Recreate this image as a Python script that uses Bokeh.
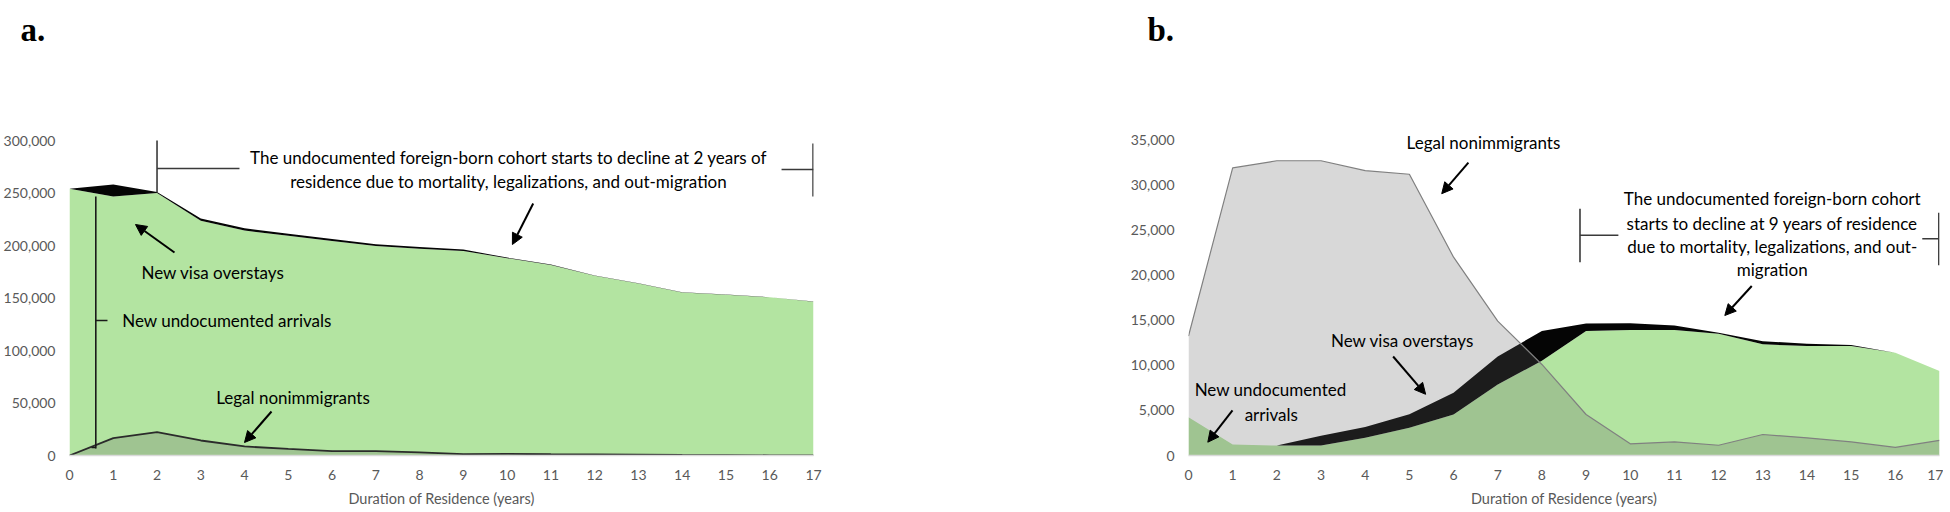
import numpy as np
from bokeh.plotting import figure
from bokeh.layouts import row, column
from bokeh.models import Range1d, FixedTicker, NumeralTickFormatter, Label, Arrow, NormalHead
from bokeh.core.properties import value
from bokeh.embed import file_html
from bokeh.resources import INLINE

# ---------------- data ----------------
years = list(range(18))
year_ticks = list(range(18))

# Panel a
a_undocumented = [254000, 246700, 250000, 223500, 214300, 209200, 204300, 199500, 196800,
                  194800, 187900, 181500, 171100, 163800, 155300, 153100, 150600, 146500]
a_overstays = [0, 11300, 1000, 2200, 2200, 2000, 1800, 1800, 1700,
               1300, 600, 400, 300, 300, 200, 200, 200, 200]
a_legal = [0, 16500, 22200, 14300, 8600, 6300, 4100, 4100, 2900,
           1300, 1500, 1200, 1000, 800, 500, 300, 200, 200]
a_yticks = [0, 50000, 100000, 150000, 200000, 250000, 300000]

# Panel b
b_undocumented = [4250, 1220, 1100, 1100, 1960, 3070, 4550, 7890, 10500,
                  13800, 13920, 13920, 13520, 12330, 12150, 12150, 11410, 9370]
b_overstays = [0, 0, 0, 1100, 1200, 1500, 2400, 3100, 3300,
               850, 750, 500, 100, 350, 250, 100, 0, 0]
b_legal = [13250, 31900, 32700, 32700, 31600, 31200, 22000, 14900, 10100,
           4550, 1290, 1510, 1140, 2330, 1960, 1510, 900, 1680]
b_yticks = [0, 5000, 10000, 15000, 20000, 25000, 30000, 35000]

panel_letters = ["a.", "b."]
x_title = "Duration of Residence (years)"

GREEN = "#b3e4a1"
BLACK = "#050505"
GREY_RGB = (100, 100, 100)
TICK_C = "#595959"
FONT = "Lato"
FRAME_H = 407
HDR_H = 48


def make_panel(border_left, frame_w, border_right, y_end, yticks, und, ovs, legal,
               legal_line_color, legal_line_width):
    p = figure(frame_width=frame_w, frame_height=FRAME_H, output_backend="svg",
               toolbar_location=None,
               x_range=Range1d(0, 17), y_range=Range1d(0, y_end),
               min_border_left=border_left, min_border_right=border_right,
               min_border_top=0, min_border_bottom=40)
    und = np.array(und, dtype=float)
    tot = und + np.array(ovs, dtype=float)
    p.varea(x=years, y1=0, y2=und, fill_color=GREEN)
    p.varea(x=years, y1=und, y2=tot, fill_color=BLACK)
    p.varea(x=years, y1=0, y2=legal, fill_color=GREY_RGB, fill_alpha=0.25)
    p.line(x=years, y=legal, line_color=legal_line_color, line_width=legal_line_width)

    p.xgrid.visible = False
    p.ygrid.visible = False
    p.outline_line_color = None

    p.xaxis.ticker = FixedTicker(ticks=year_ticks)
    p.yaxis.ticker = FixedTicker(ticks=yticks)
    p.yaxis.formatter = NumeralTickFormatter(format="0,0")
    for ax in (p.xaxis[0], p.yaxis[0]):
        ax.major_tick_line_color = None
        ax.minor_tick_line_color = None
        ax.major_tick_out = 0
        ax.major_tick_in = 0
        ax.minor_tick_out = 0
        ax.major_label_text_color = TICK_C
        ax.major_label_text_font = FONT
        ax.major_label_text_font_size = "14px"
    p.yaxis.axis_line_color = None
    p.yaxis.major_label_standoff = 14
    p.xaxis.axis_line_color = "#d9d9d9"
    p.xaxis.axis_line_width = 1.5
    p.xaxis.major_label_standoff = 14
    p.xaxis.axis_label = x_title
    p.xaxis.axis_label_text_font = FONT
    p.xaxis.axis_label_text_font_style = "normal"
    p.xaxis.axis_label_text_font_size = "14.5px"
    p.xaxis.axis_label_text_color = TICK_C
    p.xaxis.axis_label_standoff = 7
    return p


def txt(p, x, y, s, align="center", size="17px"):
    p.add_layout(Label(x=x, y=y, text=s, text_align=align, text_baseline="middle",
                       text_font=FONT, text_font_size=size, text_color="black"))


def seg(p, xs, ys, color="#3a3a3a", w=1.6):
    p.line(x=xs, y=ys, line_color=color, line_width=w)


def arrow(p, x0, y0, x1, y1):
    p.add_layout(Arrow(end=NormalHead(size=11, fill_color="black", line_color="black"),
                       x_start=x0, y_start=y0, x_end=x1, y_end=y1,
                       line_color="black", line_width=2))


# ---------------- header with panel letters ----------------
hdr = figure(width=1942, height=HDR_H, output_backend="svg", toolbar_location=None,
             x_range=Range1d(0, 1942), y_range=Range1d(HDR_H, 0),
             x_axis_type=None, y_axis_type=None,
             min_border=0)
hdr.xgrid.visible = False
hdr.ygrid.visible = False
hdr.outline_line_color = None
hdr.text(x=[20, 1147], y=[29, 29], text=panel_letters,
         text_font=value("Liberation Serif"), text_font_style="bold",
         text_font_size="33px", text_color="black",
         text_baseline="alphabetic", text_align="left")

# ---------------- panel a ----------------
A_PER_PX = 300000 / 315.0
pa = make_panel(68, 744, 163, FRAME_H * A_PER_PX, a_yticks, a_undocumented, a_overstays,
                a_legal, "#2b2b2b", 1.8)
# top bracket
seg(pa, [2, 2], [250500, 300000])
seg(pa, [2, 3.884], [273333, 273333])
seg(pa, [16.27, 17], [272380, 272380])
seg(pa, [16.99, 16.99], [246667, 297143])
txt(pa, 10.03, 283810, "The undocumented foreign-born cohort starts to decline at 2 years of")
txt(pa, 10.03, 260950, "residence due to mortality, legalizations, and out-migration")
arrow(pa, 10.595, 240000, 10.12, 200952)
# visa overstays
txt(pa, 3.279, 174286, "New visa overstays")
arrow(pa, 2.399, 193333, 1.508, 220000)
# undocumented arrivals bracket
seg(pa, [0.601, 0.601], [6667, 246667], color="#1a1a1a")
seg(pa, [0.601, 0.868], [128571, 128571], color="#1a1a1a")
seg(pa, [0.503, 0.601], [7619, 7619], color="#1a1a1a")
txt(pa, 1.204, 128571, "New undocumented arrivals", align="left")
# legal nonimmigrants
txt(pa, 5.107, 55238, "Legal nonimmigrants")
arrow(pa, 4.616, 41905, 3.999, 12381)

# ---------------- panel b ----------------
B_PER_PX = 35000 / 315.5
pb = make_panel(212, 751, 4, FRAME_H * B_PER_PX, b_yticks, b_undocumented, b_overstays,
                b_legal, "#808080", 1.2)
txt(pb, 6.676, 34703, "Legal nonimmigrants")
arrow(pb, 6.336, 32483, 5.732, 29044)
# bracket
seg(pb, [8.862, 8.862], [21445, 27369])
seg(pb, [8.862, 9.731], [24430, 24430])
seg(pb, [16.61, 16.985], [24052, 24052])
seg(pb, [16.985, 16.985], [21100, 26936])
txt(pb, 13.213, 28464, "The undocumented foreign-born cohort")
txt(pb, 13.213, 25740, "starts to decline at 9 years of residence")
txt(pb, 13.213, 23188, "due to mortality, legalizations, and out-")
txt(pb, 13.213, 20636, "migration")
arrow(pb, 12.75, 18805, 12.14, 15532)
# visa overstays
txt(pb, 4.845, 12758, "New visa overstays")
arrow(pb, 4.632, 10983, 5.368, 6790)
# undocumented arrivals
txt(pb, 1.858, 7289, "New undocumented")
txt(pb, 1.874, 4571, "arrivals")
arrow(pb, 0.996, 5015, 0.437, 1476)

layout = column(hdr, row(pa, pb))
open("out.html", "w").write(file_html(layout, INLINE))
